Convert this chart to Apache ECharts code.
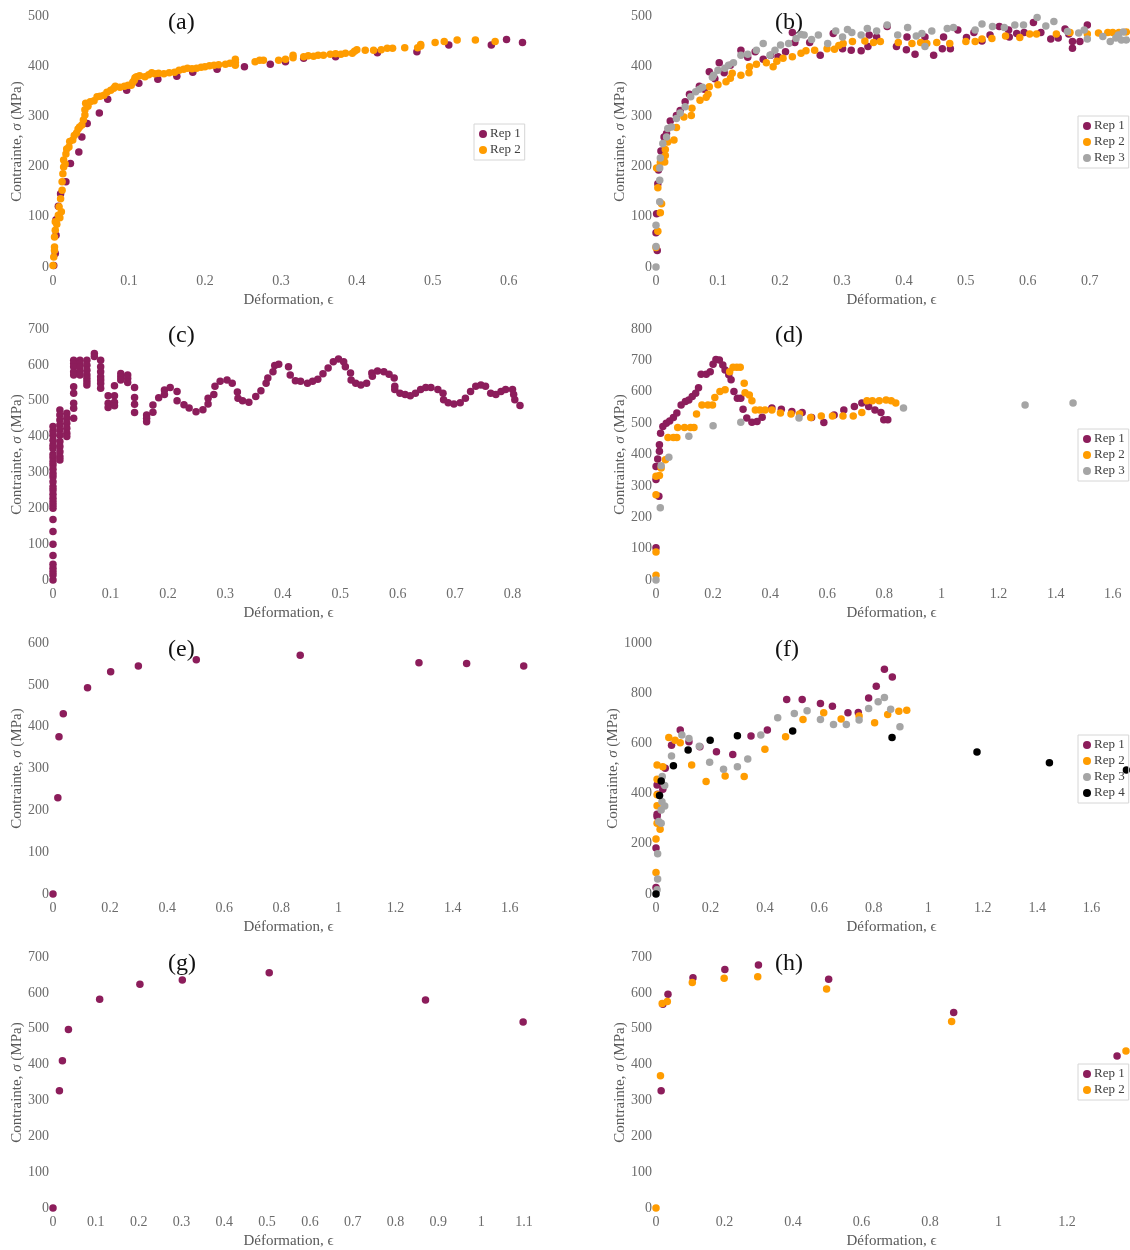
<!DOCTYPE html>
<html><head><meta charset="utf-8">
<script src="https://cdn.jsdelivr.net/npm/echarts@6/dist/echarts.min.js"></script>
<style>html,body{margin:0;padding:0;background:#fff}#c{width:1130px;height:1250px}</style>
</head><body><div id="c"></div>
<script>
const COLORS = ['#8C1D5B', '#FF9C00', '#A5A5A5', '#000000'];
const SERIES_NAMES = ['Rep 1', 'Rep 2', 'Rep 3', 'Rep 4'];
const PANEL_LABELS = ['(a)', '(b)', '(c)', '(d)', '(e)', '(f)', '(g)', '(h)'];
const X_MAX  = [0.62, 0.76, 0.82, 1.65, 1.65, 1.73, 1.1, 1.375];
const X_STEP = [0.1, 0.1, 0.1, 0.2, 0.2, 0.2, 0.1, 0.2];
const Y_MAX  = [500, 500, 700, 800, 600, 1000, 700, 700];
const Y_STEP = [100, 100, 100, 100, 100, 200, 100, 100];
const X_TITLE = 'Déformation, ϵ';
const Y_TITLE = 'Contrainte, {i|σ} (MPa)';

// (a)
const A_REP1 = [[0.001,3],[0.003,27],[0.004,63],[0.004,94],[0.007,121],[0.010,146],[0.017,170],[0.023,206],[0.034,229],[0.038,259],[0.045,286],[0.061,307],[0.072,334],[0.097,352],[0.113,366],[0.138,374],[0.163,380],[0.184,388],[0.216,394],[0.252,399],[0.286,404],[0.306,409],[0.330,416],[0.372,419],[0.427,427],[0.479,429],[0.521,442],[0.577,442],[0.597,453],[0.618,447]];
const A_REP2 = [[0,3],[0.001,20],[0.002,40],[0.002,33],[0.002,60],[0.003,73],[0.003,90],[0.005,85],[0.007,103],[0.008,120],[0.009,98],[0.010,136],[0.011,110],[0.012,153],[0.012,170],[0.013,186],[0.014,199],[0.014,213],[0.016,205],[0.017,225],[0.018,235],[0.021,239],[0.022,250],[0.026,253],[0.028,262],[0.031,267],[0.033,275],[0.035,279],[0.038,283],[0.040,293],[0.042,303],[0.042,313],[0.043,326],[0.046,320],[0.049,329],[0.054,331],[0.058,339],[0.062,340],[0.067,342],[0.071,348],[0.076,352],[0.080,356],[0.082,360],[0.088,358],[0.094,360],[0.099,362],[0.103,362],[0.105,368],[0.107,372],[0.108,377],[0.110,379],[0.114,381],[0.121,379],[0.126,383],[0.130,387],[0.134,385],[0.139,386],[0.146,385],[0.153,387],[0.160,388],[0.166,392],[0.172,394],[0.177,396],[0.183,395],[0.189,396],[0.195,398],[0.200,399],[0.206,401],[0.212,402],[0.218,403],[0.227,404],[0.233,406],[0.240,414],[0.240,408],[0.240,402],[0.266,409],[0.272,412],[0.277,412],[0.297,412],[0.306,414],[0.316,422],[0.316,417],[0.330,419],[0.336,421],[0.343,420],[0.349,422],[0.356,422],[0.365,424],[0.372,425],[0.379,424],[0.385,426],[0.394,426],[0.397,430],[0.400,433],[0.411,432],[0.422,432],[0.432,433],[0.440,436],[0.447,436],[0.463,437],[0.480,437],[0.484,443],[0.484,440],[0.503,447],[0.515,449],[0.532,452],[0.556,452],[0.582,449]];

// (b)
const B_REP1 = [[0.002,33],[0,68],[0.001,106],[0.003,166],[0.004,193],[0.008,231],[0.013,259],[0.017,266],[0.023,291],[0.033,302],[0.039,312],[0.047,329],[0.054,344],[0.070,360],[0.078,354],[0.086,389],[0.095,375],[0.102,407],[0.110,387],[0.120,402],[0.137,432],[0.148,418],[0.160,429],[0.173,414],[0.185,422],[0.197,419],[0.209,429],[0.220,467],[0.224,447],[0.248,447],[0.265,422],[0.286,465],[0.301,435],[0.315,432],[0.331,431],[0.342,439],[0.344,462],[0.356,458],[0.373,479],[0.388,439],[0.405,458],[0.404,433],[0.418,424],[0.434,458],[0.448,422],[0.462,435],[0.464,458],[0.475,435],[0.487,472],[0.501,457],[0.513,467],[0.526,450],[0.539,462],[0.554,479],[0.570,458],[0.569,472],[0.582,465],[0.594,467],[0.609,487],[0.621,467],[0.637,454],[0.649,456],[0.660,474],[0.666,464],[0.672,436],[0.672,449],[0.684,449],[0.696,482]];
const B_REP2 = [[0,39],[0.003,71],[0.003,158],[0.001,197],[0.007,108],[0.009,126],[0.007,208],[0.014,209],[0.015,222],[0.015,234],[0.019,249],[0.029,253],[0.033,278],[0.045,299],[0.057,302],[0.058,316],[0.071,332],[0.081,338],[0.084,344],[0.086,359],[0.100,363],[0.113,369],[0.120,376],[0.123,386],[0.137,382],[0.150,387],[0.151,399],[0.162,404],[0.178,407],[0.189,399],[0.195,410],[0.205,416],[0.220,419],[0.234,426],[0.242,431],[0.256,432],[0.276,435],[0.288,434],[0.295,441],[0.302,445],[0.317,449],[0.337,450],[0.351,447],[0.362,449],[0.391,447],[0.413,445],[0.427,447],[0.437,445],[0.453,447],[0.474,445],[0.500,449],[0.515,449],[0.526,454],[0.542,455],[0.564,460],[0.587,457],[0.603,464],[0.614,464],[0.646,464],[0.668,467],[0.696,464],[0.714,466],[0.729,467],[0.737,467],[0.747,467],[0.759,468]];
const B_REP3 = [[0,0],[0,41],[0,83],[0.006,130],[0.006,173],[0.006,197],[0.007,217],[0.011,246],[0.017,259],[0.019,276],[0.025,279],[0.033,296],[0.039,307],[0.047,319],[0.056,339],[0.064,349],[0.070,354],[0.075,358],[0.091,378],[0.093,382],[0.100,392],[0.111,396],[0.117,402],[0.125,407],[0.137,422],[0.148,424],[0.162,432],[0.173,445],[0.184,422],[0.192,432],[0.201,442],[0.214,445],[0.226,455],[0.234,463],[0.239,462],[0.251,453],[0.262,462],[0.277,445],[0.290,470],[0.301,458],[0.309,473],[0.316,467],[0.331,462],[0.341,475],[0.356,470],[0.373,482],[0.390,462],[0.406,477],[0.420,460],[0.429,465],[0.434,439],[0.445,470],[0.470,475],[0.480,477],[0.515,472],[0.526,484],[0.543,479],[0.562,477],[0.579,482],[0.593,482],[0.615,497],[0.629,480],[0.642,489],[0.664,469],[0.682,466],[0.691,472],[0.696,454],[0.721,459],[0.733,449],[0.742,456],[0.746,462],[0.751,452],[0.754,468],[0.759,452]];

// (c)
const C_REP1 = [[0,0],[0,14],[0,23],[0,33],[0,44],[0,68],[0,100],[0,135],[0,169],[0,200],[0,209],[0,218],[0,228],[0,239],[0,251],[0,260],[0,274],[0,288],[0,297],[0,309],[0,321],[0,330],[0,341],[0,350],[0,367],[0,376],[0,390],[0,404],[0,415],[0,428],
[0.012,474],[0.012,460],[0.012,446],[0.012,432],[0.012,418],[0.012,404],[0.012,386],[0.012,372],[0.012,358],[0.012,344],[0.012,335],
[0.024,465],[0.024,451],[0.024,437],[0.024,423],[0.024,409],[0.024,400],
[0.036,613],[0.036,604],[0.036,595],[0.036,581],[0.036,572],[0.036,539],[0.036,521],[0.036,493],[0.036,479],[0.036,451],
[0.047,613],[0.047,604],[0.047,595],[0.047,581],[0.047,572],
[0.059,613],[0.059,599],[0.059,585],[0.059,572],[0.059,562],[0.059,553],[0.059,544],
[0.072,632],[0.072,623],
[0.083,613],[0.083,595],[0.083,581],[0.083,567],[0.083,558],[0.083,548],[0.083,535],
[0.096,514],[0.096,493],[0.096,481],
[0.107,542],[0.107,514],[0.107,496],[0.107,486],
[0.118,576],[0.118,567],[0.118,558],
[0.130,572],[0.130,562],[0.130,551],
[0.142,537],[0.142,509],[0.142,490],[0.142,467],
[0.163,460],[0.163,451],[0.163,441],[0.174,488],[0.174,468],[0.184,508],
[0.194,530],[0.194,517],[0.204,537],[0.216,526],[0.216,500],[0.228,489],[0.237,480],[0.249,469],[0.261,475],[0.270,491],[0.270,507],[0.280,517],[0.282,540],[0.291,554],[0.303,558],[0.312,549],[0.321,524],[0.322,507],[0.330,500],[0.341,496],[0.353,512],[0.362,528],[0.371,549],[0.374,563],[0.383,581],[0.386,598],[0.393,602],[0.410,595],[0.413,572],[0.422,556],[0.431,554],[0.443,549],[0.452,554],[0.461,560],[0.470,575],[0.479,591],[0.488,609],[0.497,616],[0.506,609],[0.509,595],[0.518,577],[0.519,558],[0.527,549],[0.536,544],[0.546,549],[0.555,577],[0.556,568],[0.565,583],[0.576,581],[0.585,574],[0.594,563],[0.595,540],[0.595,531],[0.604,521],[0.613,517],[0.622,514],[0.631,521],[0.640,531],[0.649,537],[0.658,537],[0.670,531],[0.679,521],[0.680,503],[0.688,494],[0.698,491],[0.709,494],[0.718,507],[0.727,526],[0.736,540],[0.745,544],[0.753,540],[0.762,521],[0.771,517],[0.780,526],[0.788,531],[0.800,531],[0.802,517],[0.804,503],[0.813,487]];

// (d)
const D_REP1 = [[0,103],[0.010,267],[0,320],[0,362],[0.006,386],[0.012,410],[0.012,431],[0.016,468],[0.024,489],[0.036,500],[0.048,507],[0.061,518],[0.073,532],[0.088,558],[0.103,569],[0.115,574],[0.127,585],[0.139,595],[0.149,613],[0.158,656],[0.176,656],[0.190,664],[0.200,688],[0.210,703],[0.222,701],[0.234,685],[0.242,669],[0.255,654],[0.263,638],[0.273,601],[0.285,579],[0.297,579],[0.305,544],[0.318,516],[0.336,503],[0.354,505],[0.372,519],[0.406,548],[0.439,544],[0.476,537],[0.512,534],[0.545,518],[0.588,502],[0.624,526],[0.658,542],[0.695,553],[0.721,564],[0.745,553],[0.767,542],[0.788,534],[0.798,511],[0.812,511]];
const D_REP2 = [[0,15],[0,89],[0,272],[0,331],[0.012,333],[0.018,357],[0.033,383],[0.042,454],[0.061,454],[0.073,454],[0.076,486],[0.100,486],[0.121,486],[0.133,486],[0.142,529],[0.161,558],[0.182,558],[0.198,558],[0.206,582],[0.224,601],[0.242,606],[0.258,664],[0.270,678],[0.283,678],[0.295,678],[0.309,627],[0.312,597],[0.327,590],[0.336,571],[0.348,542],[0.364,542],[0.382,542],[0.406,542],[0.436,532],[0.473,529],[0.503,529],[0.542,518],[0.579,523],[0.618,523],[0.655,523],[0.691,523],[0.721,534],[0.739,571],[0.758,571],[0.782,571],[0.806,574],[0.824,571],[0.840,564]];
const D_REP3 = [[0,0],[0.015,230],[0.018,364],[0.045,391],[0.115,458],[0.200,492],[0.297,503],[0.501,516],[0.867,548],[1.293,558],[1.461,564],[1.651,571]];

// (e)
const E_REP1 = [[0,0],[0.017,230],[0.021,376],[0.036,431],[0.121,493],[0.202,531],[0.299,545],[0.502,560],[0.866,571],[1.282,553],[1.449,551],[1.649,545]];

// (f)
const F_REP1 = [[0,26],[0,183],[0.004,309],[0.004,318],[0.006,397],[0.004,434],[0.025,417],[0.034,501],[0.057,593],[0.089,653],[0.121,607],[0.161,587],[0.222,567],[0.282,556],[0.349,629],[0.409,653],[0.480,775],[0.537,775],[0.604,759],[0.648,748],[0.705,722],[0.743,723],[0.781,781],[0.809,828],[0.839,895],[0.868,865]];
const F_REP2 = [[0,86],[0,219],[0.015,258],[0.004,282],[0.004,352],[0.004,395],[0.004,457],[0.004,514],[0.025,507],[0.047,624],[0.070,613],[0.089,603],[0.131,514],[0.184,448],[0.254,470],[0.324,468],[0.400,577],[0.476,626],[0.540,695],[0.616,722],[0.680,697],[0.746,709],[0.803,682],[0.851,715],[0.892,728],[0.921,732]];
const F_REP3 = [[0.004,17],[0.006,60],[0.006,160],[0.010,289],[0.019,282],[0.019,335],[0.022,368],[0.032,351],[0.032,432],[0.023,468],[0.057,550],[0.095,633],[0.121,620],[0.159,589],[0.197,525],[0.248,497],[0.299,507],[0.337,538],[0.385,633],[0.447,702],[0.508,719],[0.555,730],[0.604,695],[0.652,675],[0.699,675],[0.746,693],[0.781,739],[0.816,766],[0.839,783],[0.862,736],[0.896,666]];
const F_REP4 = [[0,0],[0.013,392],[0.019,450],[0.064,511],[0.118,574],[0.199,613],[0.299,630],[0.502,649],[0.867,624],[1.179,566],[1.445,523],[1.728,494]];

// (g)
const G_REP1 = [[0,0],[0.015,327],[0.022,411],[0.036,498],[0.109,582],[0.203,624],[0.302,636],[0.505,656],[0.870,580],[1.098,519]];

// (h)
const H_REP1 = [[0.015,327],[0.020,568],[0.035,596],[0.108,642],[0.201,665],[0.299,678],[0.504,638],[0.869,545],[1.346,424]];
const H_REP2 = [[0,0],[0.013,369],[0.018,570],[0.033,576],[0.106,629],[0.199,641],[0.297,645],[0.498,611],[0.863,520],[1.372,438]];

const PANEL_SERIES = [
  [A_REP1, A_REP2],
  [B_REP1, B_REP2, B_REP3],
  [C_REP1],
  [D_REP1, D_REP2, D_REP3],
  [E_REP1],
  [F_REP1, F_REP2, F_REP3, F_REP4],
  [G_REP1],
  [H_REP1, H_REP2]
];
const LEGEND_TOPS = [124, 116, null, 429, null, 735, null, 1064];

const FONT = '"Liberation Serif", "DejaVu Serif", serif';
const LABEL_GRAY = '#6b6b6b';
const ROW_TOPS = [16, 329, 643, 957];

function fmt(v, step) {
  const k = v / step;
  if (Math.abs(k - Math.round(k)) > 1e-6) return '';
  return String(parseFloat(v.toFixed(3)));
}

const grid = [], xAxis = [], yAxis = [], series = [], legend = [], graphic = [];
for (let i = 0; i < 8; i++) {
  const col = i % 2, row = Math.floor(i / 2);
  const left = col ? 656 : 53;
  const width = col ? 472 : 471;
  grid.push({ left: left, top: ROW_TOPS[row], width: width, height: 251 });
  xAxis.push({
    gridIndex: i, type: 'value', min: 0, max: X_MAX[i], interval: X_STEP[i],
    axisLine: { show: false }, axisTick: { show: false }, splitLine: { show: false },
    axisLabel: { color: LABEL_GRAY, fontFamily: FONT, fontSize: 14, margin: 7,
      formatter: (v) => fmt(v, X_STEP[i]) },
    name: X_TITLE, nameLocation: 'middle', nameGap: 26,
    nameTextStyle: { color: '#595959', fontFamily: FONT, fontSize: 15 }
  });
  yAxis.push({
    gridIndex: i, type: 'value', min: 0, max: Y_MAX[i], interval: Y_STEP[i],
    axisLine: { show: false }, axisTick: { show: false }, splitLine: { show: false },
    axisLabel: { color: LABEL_GRAY, fontFamily: FONT, fontSize: 14, margin: 4,
      formatter: (v) => fmt(v, Y_STEP[i]) },
    name: Y_TITLE, nameLocation: 'middle', nameGap: 26,
    nameTextStyle: { color: '#595959', fontFamily: FONT, fontSize: 15,
      rich: { i: { fontStyle: 'italic', color: '#595959', fontFamily: FONT, fontSize: 15 } } }
  });
  const sets = PANEL_SERIES[i];
  sets.forEach((d, k) => {
    series.push({
      type: 'scatter', name: SERIES_NAMES[k], xAxisIndex: i, yAxisIndex: i,
      data: d, symbol: 'circle', symbolSize: 7.5,
      itemStyle: { color: COLORS[k], opacity: 1 }, silent: true
    });
  });
  if (LEGEND_TOPS[i] !== null) {
    legend.push({
      data: SERIES_NAMES.slice(0, sets.length),
      orient: 'vertical', left: col ? 1078 : 474, top: LEGEND_TOPS[i],
      icon: 'circle', itemWidth: 8, itemHeight: 8, itemGap: 2,
      padding: [3, 4, 3, 5], borderColor: '#d6d6d6', borderWidth: 1,
      selectedMode: false,
      textStyle: { color: '#404040', fontFamily: FONT, fontSize: 13, lineHeight: 14, padding: [0, 0, 0, -2] }
    });
  }
  graphic.push({
    type: 'text', left: (col ? 789 : 182) - 14, top: ROW_TOPS[row] - 5,
    style: { text: PANEL_LABELS[i], font: '24px ' + FONT, fill: '#111' }
  });
}

const chart = echarts.init(document.getElementById('c'), null, { renderer: 'canvas' });
chart.setOption({
  animation: false, backgroundColor: '#fff',
  grid, xAxis, yAxis, series, legend, graphic
});
</script></body></html>
